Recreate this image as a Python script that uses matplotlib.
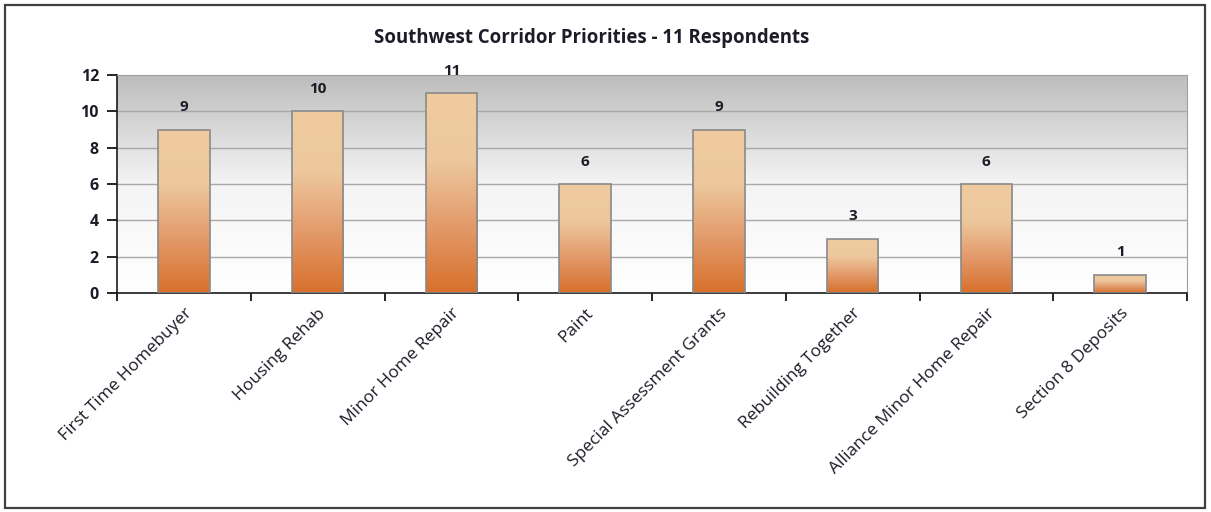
import matplotlib
matplotlib.use("Agg")
import matplotlib.pyplot as plt
import numpy as np
from matplotlib.colors import LinearSegmentedColormap
from matplotlib.patches import Rectangle

categories = ["First Time Homebuyer", "Housing Rehab", "Minor Home Repair", "Paint",
              "Special Assessment Grants", "Rebuilding Together",
              "Alliance Minor Home Repair", "Section 8 Deposits"]
values = [9, 10, 11, 6, 9, 3, 6, 1]
title = "Southwest Corridor Priorities - 11 Respondents"
yticks = [0, 2, 4, 6, 8, 10, 12]

plt.rcParams['font.family'] = ['Open Sans', 'DejaVu Sans']
txt = '#1c1c28'

fig = plt.figure(figsize=(12.11, 5.12), dpi=100)
fig.patch.set_facecolor('white')
# outer border
fig.add_artist(Rectangle((5/1211, 4/512), 1200/1211, 503/512, transform=fig.transFigure,
                         fill=False, edgecolor='#404040', linewidth=1.6))

ax = fig.add_axes([117/1211, 1-293/512, 1070/1211, 218/512])
n = len(categories)
x = np.arange(n)

# background gradient
bg_cmap = LinearSegmentedColormap.from_list('bg', ['#ffffff', '#f4f4f4', '#bdbdbd'])
grad = np.linspace(0, 1, 256).reshape(-1, 1)
ax.imshow(grad, extent=[-0.5, n - 0.5, 0, 12], origin='lower', cmap=bg_cmap,
          aspect='auto', zorder=0)

for yv in yticks[1:-1]:
    ax.axhline(yv, color='#a8a8a8', linewidth=1.0, zorder=1)

bar_cmap = LinearSegmentedColormap.from_list('bar', ['#d8702c', '#e39a6a', '#edc89e', '#efcb9f'])
width = 0.385
bars = ax.bar(x, values, width=width, color='none', edgecolor='#8a8a8a', linewidth=1.2, zorder=3)
for b in bars:
    x0 = b.get_x()
    h = b.get_height()
    im = ax.imshow(grad, extent=[x0, x0 + width, 0, h], origin='lower', cmap=bar_cmap,
                   aspect='auto', zorder=2)
    im.set_clip_path(b)
    ax.text(b.get_x() + width / 2, h + 0.85, str(int(h)), ha='center', va='bottom',
            fontsize=11, fontweight='bold', color=txt, zorder=4)

ax.set_xlim(-0.5, n - 0.5)
ax.set_ylim(0, 12)

ax.spines['right'].set_color('#a0a0a0')
ax.spines['top'].set_color('#a0a0a0')
ax.spines['left'].set_color('#1a1a1a')
ax.spines['bottom'].set_color('#1a1a1a')
ax.spines['left'].set_linewidth(1.2)
ax.spines['bottom'].set_linewidth(1.2)

ax.set_yticks(yticks)
ax.set_yticklabels([str(v) for v in yticks], fontsize=11.5, fontweight='bold', color=txt)
ax.tick_params(axis='y', length=7, width=1.2, pad=6)

ax.set_xticks(np.arange(-0.5, n, 1.0), minor=False)
ax.set_xticklabels([])
ax.tick_params(axis='x', length=6, width=1.2, direction='out')
ax.set_xticks(x, minor=True)
ax.set_xticklabels(categories, minor=True, rotation=45, ha='right', rotation_mode='anchor',
                   fontsize=12.5, color=txt)
ax.tick_params(axis='x', which='minor', length=0, pad=9)

fig.text((376 + 808) / 2 / 1211, 1 - 38 / 512, title, ha='center', va='center',
         fontsize=13.4, fontweight='bold', color=txt)

fig.savefig('out.png', dpi=100)
